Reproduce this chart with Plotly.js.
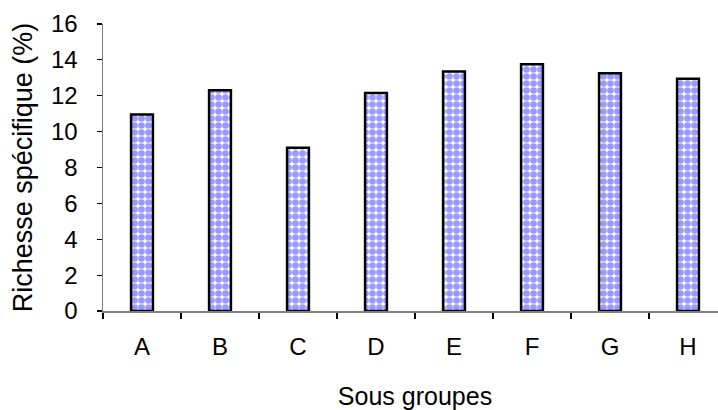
<!DOCTYPE html>
<html>
<head>
<meta charset="utf-8">
<script src="https://cdn.plot.ly/plotly-3.0.1.min.js"></script>
<style>
html,body{margin:0;padding:0;overflow:hidden;background:#fff;}
#chart{width:730px;height:410px;}
</style>
</head>
<body>
<div id="chart"></div>
<script>
const categories = ["A","B","C","D","E","F","G","H"];
const richesse = [10.95, 12.3, 9.1, 12.15, 13.35, 13.75, 13.25, 12.95];
const yTicks = [0,2,4,6,8,10,12,14,16];

const trace = {
  type: "bar",
  x: categories,
  y: richesse,
  width: 0.28,
  marker: {
    color: "#9999ff",
    pattern: {shape: ".", fgcolor: "#9999ff", bgcolor: "#ffffff", size: 7, solidity: 0.7},
    line: {color: "#000000", width: 2.5}
  },
  hoverinfo: "skip"
};

const layout = {
  width: 730,
  height: 410,
  margin: {l: 103, r: 3, t: 24, b: 99},
  paper_bgcolor: "#ffffff",
  plot_bgcolor: "#ffffff",
  showlegend: false,
  font: {family: "Liberation Sans, Arial, sans-serif", size: 24, color: "#000000"},
  xaxis: {
    type: "category",
    range: [-0.5, 7.5],
    showline: true,
    linecolor: "#808080",
    linewidth: 1.5,
    ticks: "outside",
    tickson: "boundaries",
    ticklen: 6,
    tickcolor: "#000000",
    tickwidth: 1.2,
    showgrid: false,
    zeroline: false,
    tickfont: {family: "Liberation Sans, Arial, sans-serif", size: 24, color: "#000000"},
    ticklabelstandoff: 14,
    title: {text: "Sous groupes", font: {size: 25, color: "#000000"}, standoff: 28}
  },
  yaxis: {
    range: [0, 16],
    tickvals: yTicks,
    ticktext: yTicks.map(String),
    showline: true,
    linecolor: "#808080",
    linewidth: 1.5,
    ticks: "outside",
    ticklen: 5,
    tickcolor: "#000000",
    tickwidth: 1.2,
    showgrid: false,
    zeroline: false,
    tickfont: {family: "Liberation Sans, Arial, sans-serif", size: 24, color: "#000000"},
    ticklabelstandoff: 14,
    title: {text: "Richesse spécifique (%)", font: {size: 27, color: "#000000"}, standoff: 10}
  },
  bargap: 0.72
};

Plotly.newPlot("chart", [trace], layout, {staticPlot: true, displayModeBar: false});
</script>
</body>
</html>
